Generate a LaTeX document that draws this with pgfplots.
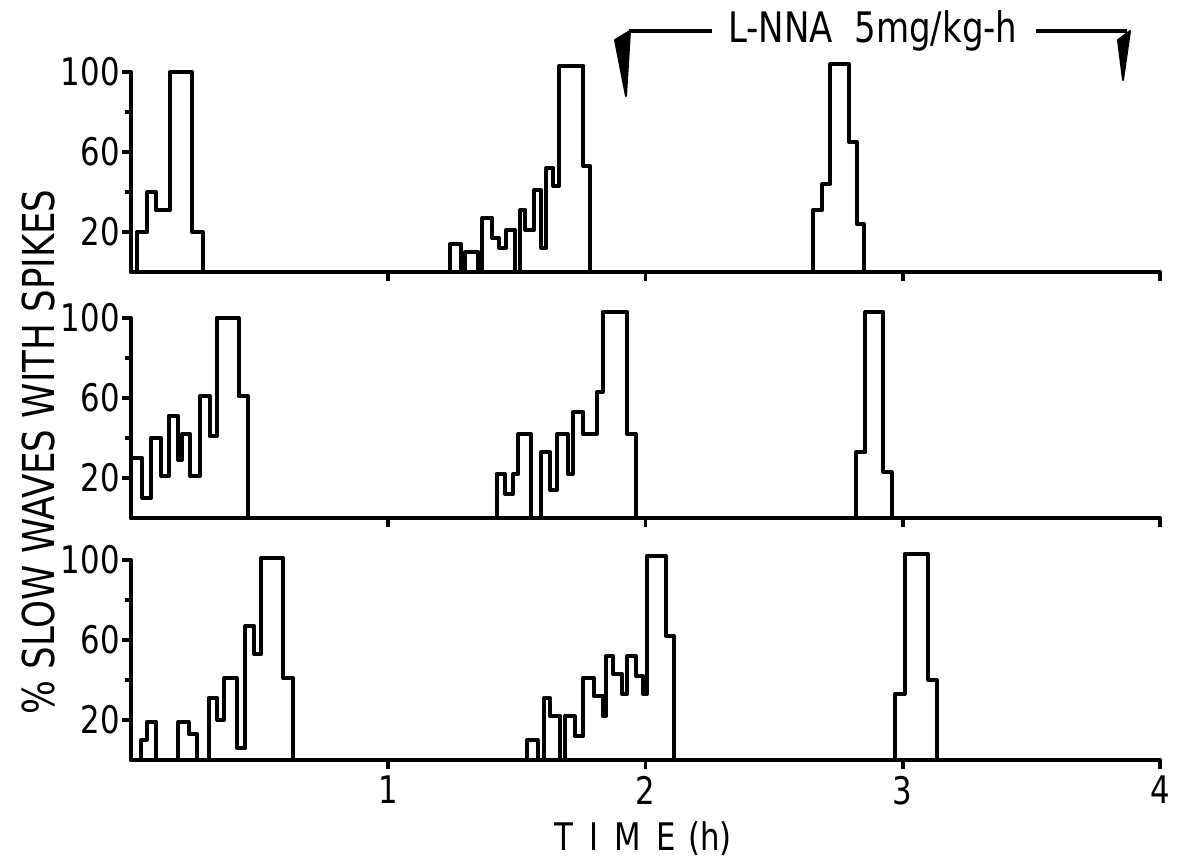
\documentclass[border=0pt]{standalone}
\usepackage{fontspec}
\setmainfont{DejaVu Sans Condensed}[FakeStretch=0.9]
\usepackage{pgfplots}
\pgfplotsset{compat=1.18}

% one panel = 0..4 h by 0..100 %
\pgfplotsset{
  panel/.style={
    scale only axis, width=514.5pt, height=100pt,
    xmin=0, xmax=4, ymin=0, ymax=100,
    axis x line=bottom, axis y line=left,
    axis line style={-, line width=2pt, line cap=round},
    xtick={1,2,3,4}, ytick={20,60,100}, minor ytick={40,80},
    tick align=outside,
    major tick length=4.5pt, minor tick length=3pt,
    every tick/.style={black, line width=1.8pt},
    every minor tick/.style={black, line width=1.8pt},
    /pgf/number format/assume math mode=true,
    tick label style={font=\fontsize{19}{19}\selectfont},
    yticklabel style={inner sep=0pt, xshift=-1pt},
    clip=false,
  },
  hist/.style={const plot, black, line width=2pt, line join=round, mark=none},
}

\begin{document}
\begin{tikzpicture}
\useasboundingbox (-65.5pt,136pt) rectangle (523.5pt,-293.5pt);

% top panel
\begin{axis}[panel, at={(0,0)}, anchor=south west, xticklabels={}]
  \addplot[hist] coordinates {
    (0.023,0) (0.023,20) (0.064,40) (0.098,31) (0.152,100) (0.238,20) (0.278,0)
    (1.241,0) (1.241,14) (1.282,0) (1.299,10) (1.350,0) (1.366,27) (1.404,17)
    (1.431,12) (1.458,21) (1.492,0) (1.513,31) (1.533,21) (1.567,41) (1.595,12)
    (1.615,52) (1.642,43) (1.663,103) (1.758,53) (1.785,0)
    (2.650,0) (2.650,31) (2.688,44) (2.719,104) (2.792,65) (2.821,24) (2.850,0)
    (4,0)
  };
\end{axis}

% middle panel
\begin{axis}[panel, at={(0,-123pt)}, anchor=south west, xticklabels={}]
  \addplot[hist] coordinates {
    (0,0) (0,30) (0.044,10) (0.078,40) (0.118,21) (0.146,51) (0.184,29)
    (0.197,42) (0.230,21) (0.268,61) (0.306,41) (0.333,100) (0.418,61) (0.456,0)
    (1.422,0) (1.422,22) (1.454,12) (1.486,22) (1.506,42) (1.554,0) (1.595,33)
    (1.629,14) (1.656,42) (1.697,22) (1.717,53) (1.758,42) (1.812,63)
    (1.833,103) (1.929,42) (1.963,0)
    (2.817,0) (2.817,33) (2.855,103) (2.925,23) (2.957,0)
    (4,0)
  };
\end{axis}

% bottom panel
\begin{axis}[panel, at={(0,-244pt)}, anchor=south west]
  \addplot[hist] coordinates {
    (0.040,0) (0.040,10) (0.061,19) (0.098,0) (0.184,19) (0.224,13) (0.258,0)
    (0.302,31) (0.336,20) (0.363,41) (0.411,6) (0.445,67) (0.479,53)
    (0.506,101) (0.592,41) (0.629,0)
    (1.540,10) (1.581,0) (1.604,31) (1.629,22) (1.667,0) (1.686,22) (1.724,12)
    (1.758,41) (1.799,32) (1.833,22) (1.847,52) (1.874,43) (1.908,33)
    (1.929,52) (1.963,42) (1.990,33) (2.005,102) (2.080,62) (2.110,0)
    (2.971,33) (3.007,103) (3.100,40) (3.133,0)
    (4,0)
  };
\end{axis}

% labels and the infusion bracket, placed in reference pixels
\begin{scope}[x=0.5pt, y=-0.5pt, shift={(-65.5pt,136pt)}]
  \node[rotate=90, font=\fontsize{22}{22}\selectfont] at (38,452) {\% SLOW WAVES WITH SPIKES};
  \node[font=\fontsize{19}{19}\selectfont] at (643,839)
    {T\hspace{8pt}I\hspace{8pt}M\hspace{8pt}E\hspace{6pt}(h)};
  \node[font=\fontsize{21}{21}\selectfont] at (873,31) {L-NNA\ \ 5mg/kg-h};
  \draw[line width=1.6pt] (629,31) -- (712,31);
  \draw[line width=1.6pt] (1036,31) -- (1127,31);
  \filldraw[line width=1pt, line join=round] (615,40) -- (630,31) -- (626,96) -- cycle;
  \filldraw[line width=1pt, line join=round] (1118,40) -- (1130,31) -- (1123,80) -- cycle;
\end{scope}
\end{tikzpicture}
\end{document}
